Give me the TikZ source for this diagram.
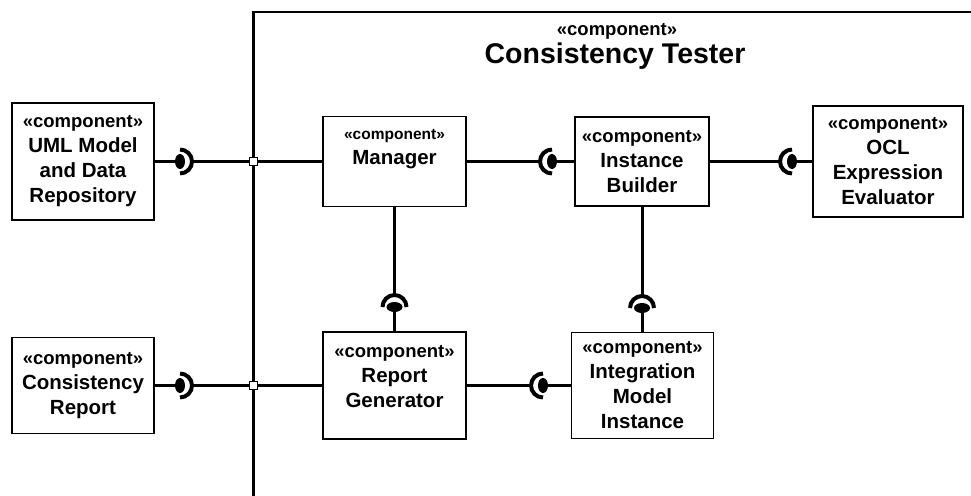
\documentclass[tikz,border=0pt]{standalone}
\usepackage{fontspec}
\setmainfont{Liberation Sans}
\usetikzlibrary{shapes.geometric}

\newcommand{\cstereo}{{\fontsize{18.5}{25}\selectfont «component»}\\}

\tikzset{
	frame/.style={line width=2.4},
	comp/.style={draw, line width=1.3, fill=white, align=center, inner sep=2,
		font=\fontsize{20.5}{25}\selectfont\bfseries},
	lbl/.style={anchor=north, align=center, inner sep=0,
		font=\fontsize{20.5}{25}\selectfont\bfseries},
	conn/.style={line width=3},
	sock/.style={line width=4},
	hball/.style={ellipse, fill, inner sep=0, minimum width=10, minimum height=15},
	vball/.style={ellipse, fill, inner sep=0, minimum width=16, minimum height=10},
	port/.style={draw, fill=white, line width=0.8, minimum size=8, inner sep=0}
}

\begin{document}
\begin{tikzpicture}[x=1pt, y=-1pt]
	\useasboundingbox (0,0) rectangle (971,495);
	% enclosing component
	\draw[frame] (980,12) -| (253.5,505);
	\node[font=\fontsize{18.5}{20}\selectfont\bfseries] (tstereo) at (617,31) {«component»};
	\node[font=\fontsize{28.5}{30}\selectfont\bfseries] (title) at (615,56) {Consistency Tester};

	% components
	\node[comp, minimum width=142, minimum height=117] (uml) at (83,161.5)
		{\cstereo UML Model\\and Data\\Repository};
	\node[comp, minimum width=142, minimum height=96] (crep) at (83,385.5)
		{\cstereo Consistency\\Report};
	\node[comp, minimum width=143, minimum height=90,
		label={[lbl, name=mgrtxt, yshift=-13]north:{{\fontsize{15.5}{25}\selectfont «component»}\\Manager}}]
		(mgr) at (394.5,161.5) {};
	\node[comp, minimum width=134, minimum height=89] (ib) at (642,161.5)
		{\cstereo Instance\\Builder};
	\node[comp, minimum width=150, minimum height=111] (ocl) at (888,161.5)
		{\cstereo OCL\\Expression\\Evaluator};
	\node[comp, minimum width=143, minimum height=107,
		label={[lbl, name=rgtxt, yshift=-13.5]north:{{\fontsize{18.5}{25}\selectfont «component»}\\Report\\Generator}}]
		(rg) at (394.5,385.5) {};
	\node[comp, minimum width=142, minimum height=106] (imi) at (642.5,385.5)
		{\cstereo Integration\\Model\\Instance};

	% ports
	\node[port] (p1) at (253.5,161.5) {};
	\node[port] (p2) at (253.5,385.5) {};

	% balls and socket ends
	\node[hball] (b1) at (180,161.5) {};
	\node[hball] (b2) at (552,161.5) {};
	\node[hball] (b3) at (792,161.5) {};
	\node[hball] (b4) at (180,385.5) {};
	\node[hball] (b5) at (543,385.5) {};
	\node[vball] (b6) at (394.5,307) {};
	\node[vball] (b7) at (642,308) {};
	\coordinate (s1) at (192,161.5);
	\coordinate (s2) at (540,161.5);
	\coordinate (s3) at (780,161.5);
	\coordinate (s4) at (192,385.5);
	\coordinate (s5) at (531,385.5);
	\coordinate (s6) at (394.5,295);
	\coordinate (s7) at (642,296);

	% assembly connectors
	\draw[conn] (uml) -- (b1);
	\draw[conn] (s1) -- (p1);
	\draw[sock] (b1.center) ++(0,-12) arc[start angle=90, end angle=-90, radius=12pt];
	\draw[conn] (crep) -- (b4);
	\draw[conn] (s4) -- (p2);
	\draw[sock] (b4.center) ++(0,-12) arc[start angle=90, end angle=-90, radius=12pt];
	\draw[conn] (p1) -- (mgr);
	\draw[conn] (p2) -- (rg);
	\draw[conn] (mgr) -- (s2);
	\draw[conn] (b2) -- (ib);
	\draw[sock] (b2.center) ++(0,-12) arc[start angle=90, end angle=270, radius=12pt];
	\draw[conn] (ib) -- (s3);
	\draw[conn] (b3) -- (ocl);
	\draw[sock] (b3.center) ++(0,-12) arc[start angle=90, end angle=270, radius=12pt];
	\draw[conn] (rg) -- (s5);
	\draw[conn] (b5) -- (imi);
	\draw[sock] (b5.center) ++(0,-12) arc[start angle=90, end angle=270, radius=12pt];
	\draw[conn] (mgr) -- (s6);
	\draw[conn] (b6) -- (rg);
	\draw[sock] (b6.center) ++(-12,0) arc[start angle=180, end angle=0, radius=12pt];
	\draw[conn] (ib) -- (s7);
	\draw[conn] (b7) -- (b7 |- imi.north);
	\draw[sock] (b7.center) ++(-12,0) arc[start angle=180, end angle=0, radius=12pt];
\end{tikzpicture}
\end{document}
